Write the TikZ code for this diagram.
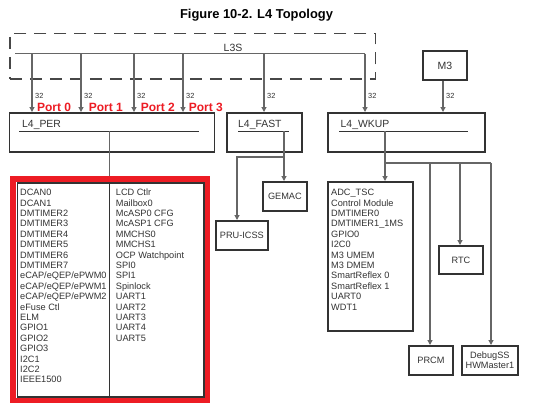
\documentclass[tikz,border=0pt]{standalone}
\usepackage{fontspec}
\setmainfont{Liberation Sans}
\usetikzlibrary{arrows.meta}
\definecolor{boxc}{HTML}{333333}
\definecolor{linec}{HTML}{666666}
\definecolor{txt}{HTML}{333333}
\definecolor{redb}{HTML}{ED1C24}
\begin{document}
\begin{tikzpicture}[x=1pt,y=-1pt,
  box/.style={draw=boxc, line width=1.8pt, inner sep=0pt, outer sep=0.9pt, anchor=north west, text=txt, font=\fontsize{9.2}{10}\selectfont, align=center},
  conn/.style={draw=linec, line width=1.1pt, -{Triangle[length=5pt,width=5pt]}},
  plain/.style={draw=linec, line width=1.1pt},
  uline/.style={draw=boxc, line width=0.9pt},
  lbl/.style={text=txt, inner sep=0pt, anchor=base west, font=\fontsize{10.4}{12}\selectfont},
  item/.style={text=txt, inner sep=0pt, anchor=base west, font=\fontsize{9.2}{11}\selectfont},
  bw/.style={text=txt, inner sep=0pt, anchor=west, font=\fontsize{7.4}{9}\selectfont},
  port/.style={text=redb, inner sep=0pt, anchor=west, font=\bfseries\fontsize{12}{14}\selectfont},
]
\fill[white] (0,0) rectangle (534,410);
\useasboundingbox (0,0) rectangle (534,410);

% title
\node[text=black, font=\bfseries\fontsize{12.9}{15}\selectfont, inner sep=0pt] (title) at (256.5,15) {Figure 10-2. L4 Topology};

% L3S dashed region
\node[draw=boxc!90, line width=1.5pt, dash pattern=on 12pt off 8pt, minimum width=365.5pt, minimum height=45.5pt, anchor=north west, inner sep=0pt] (l3s) at (9,32.5) {};
\node[text=txt, inner sep=0pt, font=\fontsize{10.5}{12}\selectfont] (l3slbl) at (233,47.5) {L3S};
\coordinate (busl) at (15,53.5);
\coordinate (busr) at (365,53.5);
\draw[plain] (busl) -- (busr);

% L4 boxes
\node[box, minimum width=205pt, minimum height=39pt] (per) at (8.5,112) {};
\node[box, minimum width=75pt, minimum height=39pt] (fast) at (226,112) {};
\node[box, minimum width=157pt, minimum height=39pt] (wkup) at (327,112) {};
\node[lbl] (perlbl) at (22,127.3) {L4\_PER};
\node[lbl] (fastlbl) at (238,127.3) {L4\_FAST};
\node[lbl] (wkuplbl) at (340.5,127.3) {L4\_WKUP};
\coordinate (peru1) at (19,131);  \coordinate (peru2) at (199,131);
\coordinate (fastu1) at (238,131); \coordinate (fastu2) at (289,131);
\coordinate (wku1) at (339,131);  \coordinate (wku2) at (468,131);
\draw[uline] (peru1) -- (peru2);
\draw[uline] (fastu1) -- (fastu2);
\draw[uline] (wku1) -- (wku2);

% M3
\node[box, minimum width=44pt, minimum height=29pt, font=\fontsize{10.5}{12}\selectfont] (m3) at (422,50) {M3};

% bus drops
\coordinate (b0) at (32,53.5);
\coordinate (b1) at (81,53.5);
\coordinate (b2) at (134,53.5);
\coordinate (b3) at (183,53.5);
\coordinate (b4) at (264,53.5);
\coordinate (b5) at (365,53.5);
\coordinate (m3o) at (443,79);
\draw[conn] (b0) -- (b0 |- per.north);
\draw[conn] (b1) -- (b1 |- per.north);
\draw[conn] (b2) -- (b2 |- per.north);
\draw[conn] (b3) -- (b3 |- per.north);
\draw[conn] (b4) -- (b4 |- fast.north);
\draw[conn] (b5) -- (b5 |- wkup.north);
\draw[conn] (m3o |- m3.south) -- (m3o |- wkup.north);

\node[bw] (w0) at (35,96) {32};
\node[bw] (w1) at (84,96) {32};
\node[bw] (w2) at (137,96) {32};
\node[bw] (w3) at (186,96) {32};
\node[bw] (w4) at (267,96) {32};
\node[bw] (w5) at (368,96) {32};
\node[bw] (w6) at (446,96) {32};

\node[port] (p0) at (36.8,107.7) {Port 0};
\node[port] (p1) at (88.6,107.7) {Port 1};
\node[port] (p2) at (140.7,107.7) {Port 2};
\node[port] (p3) at (188.7,107.7) {Port 3};

% L4_FAST targets
\node[box, minimum width=44pt, minimum height=29pt] (gemac) at (262,181) {GEMAC};
\node[box, minimum width=52pt, minimum height=29pt] (pru) at (215,220) {PRU-ICSS};
\coordinate (f0) at (284,131);
\coordinate (f1) at (284,157);
\coordinate (f2) at (237,157);
\draw[conn] (f0) -- (f0 |- gemac.north);
\draw[conn] (f1) -- (f2) -- (f2 |- pru.north);

% L4_WKUP targets
\node[box, minimum width=85pt, minimum height=149pt] (wlist) at (327,181) {};
\node[box, minimum width=44pt, minimum height=28pt] (rtc) at (438,245) {RTC};
\node[box, minimum width=44pt, minimum height=29pt] (prcm) at (408,345) {PRCM};
\node[box, minimum width=56pt, minimum height=29pt, font=\fontsize{9.2}{10.2}\selectfont] (dbg) at (461,345) {DebugSS\\HWMaster1};
\coordinate (k0) at (385,131);
\coordinate (k1) at (385,163);
\coordinate (k2) at (430,163);
\coordinate (k3) at (460,163);
\coordinate (k4) at (491,163);
\draw[conn] (k0) -- (k0 |- wlist.north);
\draw[plain] (k1) -- (k4);
\draw[conn] (k2) -- (k2 |- prcm.north);
\draw[conn] (k3) -- (k3 |- rtc.north);
\draw[conn] (k4) -- (k4 |- dbg.north);

\foreach [count=\i] \t in {ADC\_TSC, Control Module, DMTIMER0, DMTIMER1\_1MS, GPIO0, I2C0, M3 UMEM, M3 DMEM, SmartReflex 0, SmartReflex 1, UART0, WDT1}
  \node[item] (wk\i) at (331,{195.6+10.4*(\i-1)}) {\t};

% L4_PER peripheral list
\node[box, minimum width=186.5pt, minimum height=214pt] (plist) at (16.5,182) {};
\coordinate (pe0) at (109.5,131);
\draw[conn] (pe0) -- (pe0 |- plist.north);
\node[draw=redb, line width=5.5pt, minimum width=194.5pt, minimum height=221.5pt, anchor=north west, inner sep=0pt, outer sep=0pt] (red) at (12.75,178.75) {};
\coordinate (dv) at (109.5,182);
\draw[draw=boxc, line width=1.8pt] (dv) -- (dv |- plist.south);

\foreach [count=\i] \t in {DCAN0, DCAN1, DMTIMER2, DMTIMER3, DMTIMER4, DMTIMER5, DMTIMER6, DMTIMER7, eCAP/eQEP/ePWM0, eCAP/eQEP/ePWM1, eCAP/eQEP/ePWM2, eFuse Ctl, ELM, GPIO1, GPIO2, GPIO3, I2C1, I2C2, IEEE1500}
  \node[item] (pl\i) at (20,{195.6+10.4*(\i-1)}) {\t};
\foreach [count=\i] \t in {LCD Ctlr, Mailbox0, McASP0 CFG, McASP1 CFG, MMCHS0, MMCHS1, OCP Watchpoint, SPI0, SPI1, Spinlock, UART1, UART2, UART3, UART4, UART5}
  \node[item] (pr\i) at (115.7,{195.6+10.4*(\i-1)}) {\t};
\end{tikzpicture}
\end{document}
